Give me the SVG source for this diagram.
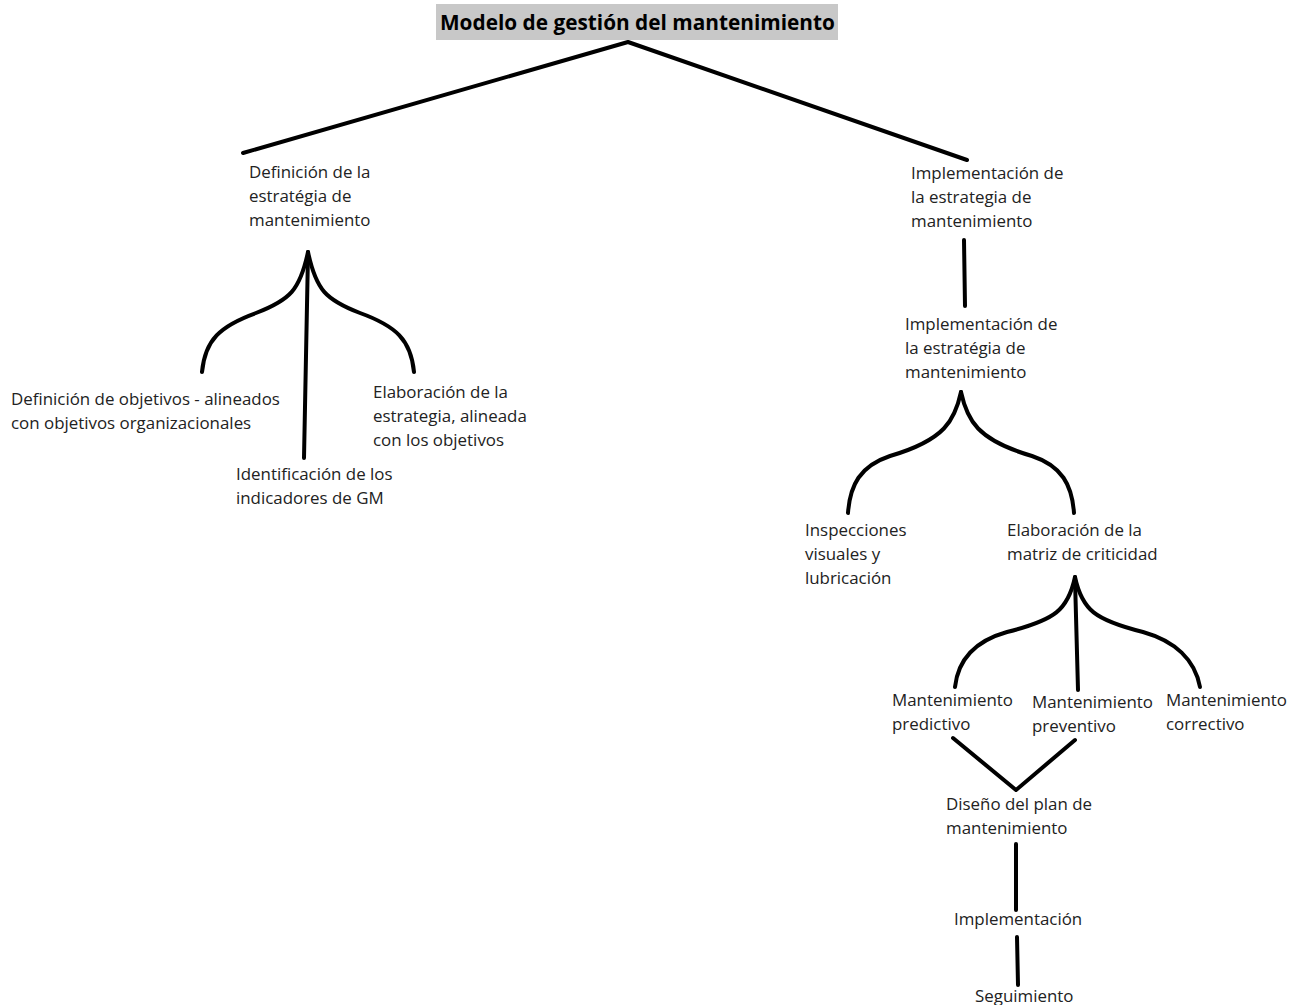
<svg xmlns="http://www.w3.org/2000/svg" width="1290" height="1005" viewBox="0 0 1290 1005">
<style>
text{font-family:"Open Sans","Noto Sans","Liberation Sans",sans-serif;font-size:16.9px;fill:#222}
.title{font-weight:bold;font-size:20.8px;fill:#000}
.c{fill:none;stroke:#000;stroke-width:4;stroke-linecap:round;stroke-linejoin:round}
</style>
<rect width="1290" height="1005" fill="#fff"/>
<g id="title"><rect x="436" y="4" width="402" height="36" fill="#c8c8c8"/><text class="title" x="440" y="30">Modelo de gestión del mantenimiento</text></g>
<g id="n-def"><text x="249" y="178">Definición de la</text><text x="249" y="202">estratégia de</text><text x="249" y="226">mantenimiento</text></g>
<g id="n-obj"><text x="11" y="405">Definición de objetivos - alineados</text><text x="11" y="429">con objetivos organizacionales</text></g>
<g id="n-elab"><text x="373" y="398">Elaboración de la</text><text x="373" y="422">estrategia, alineada</text><text x="373" y="446">con los objetivos</text></g>
<g id="n-ind"><text x="236" y="480">Identificación de los</text><text x="236" y="504">indicadores de GM</text></g>
<g id="n-impl1"><text x="911" y="179">Implementación de</text><text x="911" y="203">la estrategia de</text><text x="911" y="227">mantenimiento</text></g>
<g id="n-impl2"><text x="905" y="330">Implementación de</text><text x="905" y="354">la estratégia de</text><text x="905" y="378">mantenimiento</text></g>
<g id="n-insp"><text x="805" y="536">Inspecciones</text><text x="805" y="560">visuales y</text><text x="805" y="584">lubricación</text></g>
<g id="n-matriz"><text x="1007" y="536">Elaboración de la</text><text x="1007" y="560">matriz de criticidad</text></g>
<g id="n-pred"><text x="892" y="706">Mantenimiento</text><text x="892" y="730">predictivo</text></g>
<g id="n-prev"><text x="1032" y="708">Mantenimiento</text><text x="1032" y="732">preventivo</text></g>
<g id="n-corr"><text x="1166" y="706">Mantenimiento</text><text x="1166" y="730">correctivo</text></g>
<g id="n-dis"><text x="946" y="810">Diseño del plan de</text><text x="946" y="834">mantenimiento</text></g>
<g id="n-imp"><text x="954" y="925">Implementación</text></g>
<g id="n-seg"><text x="975" y="1002">Seguimiento</text></g>
<g id="connectors" class="c">
<path class="c" d="M243,153 L628,42 L967,160"/>
<path class="c" d="M308,252 C300,290 290,300 256,313 C220,326 205,340 202,372"/>
<path class="c" d="M308,252 C316,290 326,300 360,313 C396,326 411,340 414,372"/>
<path class="c" d="M308,254 L304,458"/>
<path class="c" d="M964,240 L965,306"/>
<path class="c" d="M961,392 C955,420 945,440 890,456 C860,466 850,485 848,513"/>
<path class="c" d="M961,392 C967,420 977,440 1032,456 C1062,466 1072,485 1074,513"/>
<path class="c" d="M1075,577 C1068,610 1055,620 1007,632 C975,641 958,660 955,687"/>
<path class="c" d="M1075,577 C1082,610 1095,620 1143,632 C1175,641 1195,660 1200,687"/>
<path class="c" d="M1075,579 L1078,690"/>
<path class="c" d="M953,738 L1016,790 L1075,740"/>
<path class="c" d="M1016,844 L1016,910"/>
<path class="c" d="M1017,937 L1018,985"/>
</g>
</svg>
